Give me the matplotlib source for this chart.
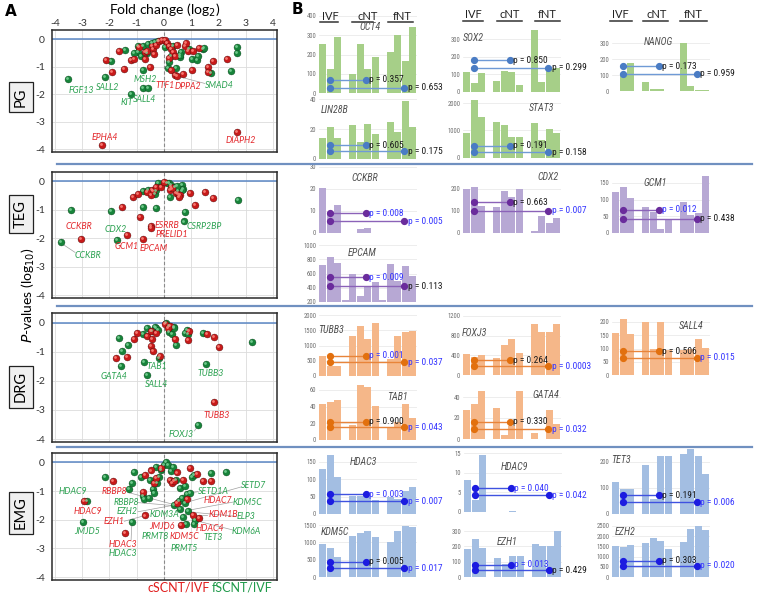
import matplotlib
matplotlib.use('Agg')
import matplotlib.pyplot as plt
from matplotlib import font_manager as fm, transforms
from matplotlib.lines import Line2D

plt.rcParams['axes.unicode_minus'] = False
_names = {f.name for f in fm.fontManager.ttflist}
BASE = 'Lato' if 'Lato' in _names else 'DejaVu Sans'
_narrow_pref = ['Liberation Sans Narrow', 'Roboto Condensed', 'Open Sans Condensed', 'DejaVu Sans Condensed']
_narrow_any = sorted(n for n in _names if ('Narrow' in n or 'Condensed' in n))
NARROW = next((n for n in _narrow_pref if n in _names), _narrow_any[0] if _narrow_any else 'Liberation Sans')
IS_NARROW = ('Narrow' in NARROW or 'Condensed' in NARROW)
plt.rcParams['font.family'] = [BASE, 'DejaVu Sans']

# ---------------- Panel A data: (log2 fold change, log10 P) ----------------
PG_GREEN = [(-3.52,-1.46),(-2.16,-1.37),(-1.95,-0.79),(-1.43,-0.39),(-1.22,-1.98),(-0.77,-1.77),
            (-0.57,-1.77),(-0.77,-1.11),(-0.95,-0.46),(-0.95,-0.25),(-0.75,-0.25),(-0.57,-0.17),
            (-0.42,-0.14),(-0.32,-0.11),(-0.20,-0.08),(0.18,-0.83),(0.28,-0.60),(0.16,-1.06),
            (0.64,-0.48),(0.94,-0.37),(1.02,-0.71),(1.20,-0.77),(1.24,-0.62),(1.45,-0.37),
            (1.48,-0.34),(1.72,-1.23),(2.69,-0.28),(2.69,-0.51),(2.47,-1.15),(0.58,-0.66),
            (0.61,-0.57),(-0.85,-0.60),(-0.60,-0.50),(0.05,-0.30),(0.35,-0.25),(-1.10,-0.50),(0.45,-1.05)]
PG_RED = [(-2.28,-3.85),(2.69,-3.38),(-2.11,-0.75),(-1.89,-1.20),(-1.47,-1.08),(-1.19,-0.77),
          (-1.11,-0.71),(-1.65,-0.43),(-0.69,-0.71),(-0.51,-1.00),(-0.69,-0.48),(-0.63,-0.43),
          (-0.45,-0.25),(-0.39,-0.37),(-0.27,-0.20),(-0.17,-0.08),(-0.08,-0.02),(0.04,-0.05),
          (0.10,-0.14),(0.18,-0.25),(0.28,-0.37),(0.34,-0.48),(0.40,-0.60),(0.28,-1.11),
          (0.40,-1.31),(0.49,-1.34),(0.70,-1.26),(1.02,-1.11),(0.88,-0.43),(1.06,-0.43),
          (1.30,-0.34),(1.63,-1.00),(1.61,-1.20),(1.81,-0.80),(2.33,-0.71),(0.76,-0.25),
          (0.82,-0.14),(-0.35,-0.55),(0.50,-0.20),(-0.90,-0.30),(0.20,-0.70)]
TEG_GREEN = [(-3.78,-2.13),(-3.40,-1.01),(-1.92,-1.03),(-1.73,-2.07),(-0.75,-0.90),(-0.77,-0.34),
             (-0.59,-0.30),(-0.33,-0.46),(-0.27,-0.32),(-0.29,-0.92),(-0.20,-0.07),(0.19,-0.07),
             (0.28,-0.11),(0.24,-0.55),(0.42,-0.21),(0.52,-0.32),(0.67,-0.11),(0.70,-0.26),
             (0.67,-0.32),(0.76,-1.07),(0.73,-1.41),(2.71,-0.67),(0.10,-0.05),(0.50,-0.15)]
TEG_RED = [(-3.04,-2.02),(-1.53,-0.90),(-1.35,-1.90),(-1.13,-0.55),(-0.93,-0.44),(-0.89,-1.24),
           (-0.77,-2.01),(-0.48,-0.49),(-0.45,-0.30),(-0.41,-0.34),(-0.48,-1.56),(-0.48,-1.64),
           (-0.29,-0.18),(-0.11,-0.18),(0.02,-0.02),(0.22,-0.30),(0.28,-0.21),(0.46,-0.41),
           (0.52,-0.44),(0.58,-0.49),(0.55,-0.55),(0.96,-0.41),(1.14,-0.84),(1.51,-0.38),
           (1.82,-0.59),(-0.60,-0.38),(0.30,-0.25)]
DRG_GREEN = [(-1.65,-0.54),(-1.54,-0.98),(-1.57,-1.49),(-1.30,-0.78),(-0.76,-0.38),(-0.72,-1.34),
             (-0.18,-1.23),(-0.63,-1.80),(-0.60,-0.20),(-0.33,-0.14),(-0.27,-0.20),(-0.20,-0.25),
             (0.08,0.00),(0.18,-0.31),(0.30,-0.38),(0.39,-0.15),(0.45,-0.78),(0.39,-0.20),
             (0.78,-0.34),(0.84,-0.25),(0.90,-0.38),(1.45,-0.34),(1.53,-1.41),(1.27,-3.51),
             (3.23,-0.66),(0.20,-0.10),(-0.45,-0.30)]
DRG_RED = [(-1.77,-1.23),(-1.35,-1.17),(-1.08,-0.55),(-0.99,-0.34),(-0.60,-0.46),(-0.46,-0.29),
           (-0.42,-0.55),(-0.46,-0.80),(-0.39,-0.98),(-0.14,-1.15),(0.24,-0.11),(0.42,-0.57),
           (0.90,-0.60),(0.94,-0.29),(1.57,-0.40),(1.84,-0.49),(2.02,-0.84),(1.83,-2.72),
           (0.05,-0.05),(-0.30,-0.35),(0.15,-0.20)]
EMG_GREEN = [(-2.80,-1.34),(-2.98,-2.06),(-2.17,-0.52),(-1.27,-0.94),(-1.15,-0.72),(-1.09,-0.32),
             (-0.85,-0.49),(-0.75,-1.17),(-1.17,-2.08),(-0.72,-1.28),(-0.54,-1.23),(-0.39,-0.94),
             (-0.36,-1.06),(-0.24,-0.72),(-0.18,-0.49),(-0.12,-0.26),(0.00,-0.09),(0.08,0.00),
             (0.15,-0.10),(0.25,-0.30),(0.36,-1.49),(0.54,-1.34),(0.60,-1.62),(0.66,-1.23),
             (0.78,-1.40),(0.84,-1.11),(0.90,-1.68),(0.96,-1.06),(0.82,-2.14),(1.10,-2.14),
             (1.14,-2.02),(1.02,-0.49),(1.10,-0.43),(1.73,-0.38),(2.27,-0.34),(0.60,-0.89),
             (0.78,-0.83),(0.45,-0.60),(-0.30,-0.15),(0.35,-0.15),(-0.50,-0.60),(0.70,-1.90)]
EMG_RED = [(-2.93,-1.34),(-1.87,-0.66),(-1.41,-2.45),(-0.69,-1.85),(-0.75,-1.02),(-0.69,-0.43),
           (-0.48,-0.28),(-0.36,-0.72),(-0.30,-0.55),(0.24,-0.60),(0.30,-0.72),(0.36,-0.66),
           (0.72,-0.60),(0.96,-0.18),(1.22,-0.40),(1.42,-0.64),(1.74,-0.64),(0.64,-2.19),
           (1.08,-1.83),(1.30,-1.93),(0.47,-1.40),(0.84,-1.29),(-0.10,-0.20),(0.50,-0.35)]

PG_LABELS = [('FGF13',-3.04,-1.86,'g'),('SALL2',-2.07,-1.75,'g'),('MSH2',-0.69,-1.46,'g'),
             ('KIT',-1.37,-2.30,'g'),('SALL4',-0.69,-2.21,'g'),('TTF1',0.04,-1.69,'r'),
             ('DPPA2',0.88,-1.72,'r'),('SMAD4',2.02,-1.69,'g'),('EPHA4',-2.16,-3.59,'r'),
             ('DIAPH2',2.83,-3.70,'r')]
TEG_LABELS = [('CCKBR',-3.10,-1.59,'r'),('CCKBR',-2.77,-2.62,'g'),('CDX2',-1.77,-1.70,'g'),
              ('GCM1',-1.35,-2.30,'r'),('EPCAM',-0.39,-2.36,'r'),('ESRRB',0.10,-1.56,'r'),
              ('PRELID1',0.28,-1.85,'r'),('CSRP2BP',1.48,-1.59,'g')]
DRG_LABELS = [('GATA4',-1.83,-1.86,'g'),('TAB1',-0.24,-1.52,'g'),('SALL4',-0.27,-2.13,'g'),
              ('TUBB3',1.72,-1.76,'g'),('TUBB3',1.95,-3.18,'r'),('FOXJ3',0.64,-3.83,'g')]
EMG_LABELS = [('HDAC9',-3.35,-1.03,'g'),('HDAC9',-2.80,-1.72,'r'),('JMJD5',-2.80,-2.40,'g'),
              ('RBBP8',-1.81,-1.03,'r'),('RBBP8',-1.39,-1.38,'g'),('EZH2',-1.35,-1.72,'g'),
              ('EZH1',-1.81,-2.06,'r'),('HDAC3',-1.51,-2.85,'r'),('HDAC3',-1.51,-3.19,'g'),
              ('KDM3A',0.02,-1.83,'g'),('JMJD6',-0.06,-2.23,'r'),('PRMT8',-0.30,-2.57,'g'),
              ('KDM5C',0.75,-2.57,'r'),('PRMT5',0.75,-2.99,'g'),('SETD1A',1.81,-1.00,'g'),
              ('SETD7',3.29,-0.81,'g'),('HDAC7',2.00,-1.34,'r'),('KDM5C',3.05,-1.38,'g'),
              ('KDM1B',2.17,-1.83,'r'),('ELP3',3.01,-1.88,'g'),('HDAC4',1.69,-2.31,'r'),
              ('KDM6A',3.01,-2.40,'g'),('TET3',1.81,-2.63,'g')]
PG_LEADERS = [(1.50,-1.61,0.58,-1.37)]
TEG_LEADERS = [(-3.25,-2.50,-3.72,-2.20)]
DRG_LEADERS = [(1.12,-3.72,1.24,-3.56)]
EMG_LEADERS = [(2.85,-0.85,0.80,-1.40),(1.25,-1.02,0.96,-1.06),(2.55,-1.38,1.00,-1.65),
               (1.60,-1.83,1.08,-1.83),(2.65,-1.88,1.20,-1.75),(2.55,-2.36,1.14,-2.02),
               (-1.30,-1.05,0.30,-1.45),(-0.95,-1.40,0.30,-1.50),(-0.95,-1.72,0.36,-1.49),
               (-1.45,-2.05,-0.69,-1.85),(-1.20,-2.70,-1.17,-2.08)]

# ---------------- Panel B data: IVF / cNT / fNT bars, two comparison lines ----------------
OCT4 = dict(ivf=[255,125,290], cnt=[100,255,125,185], fnt=[215,300,165,345], lines=[68,28], p=['0.357','0.653'], hi=[0,0])
LIN28B = dict(ivf=[14,21,14], cnt=[22.5,11,23.5,16.5], fnt=[24.5,18,39,21], lines=[9.2,5.0], p=['0.605','0.175'], hi=[0,0])
SOX2 = dict(ivf=[111,49,106], cnt=[62,119,111,40], fnt=[350,58,130,134], lines=[181,138], p=['0.850','0.299'], hi=[0,0])
STAT3 = dict(ivf=[920,2100,1480], cnt=[1300,1200,750,750], fnt=[1260,650,1040,900], lines=[450,200], p=['0.191','0.158'], hi=[0,0])
NANOG = dict(ivf=[3,94,177], cnt=[54,12.5,10,3], fnt=[302,29,4,4], lines=[156,108], p=['0.173','0.959'], hi=[0,0])
CCKBR = dict(ivf=[20.3,8.5,12.7], cnt=[0,1.8,2.4,0], fnt=[0,0,0,0], lines=[8.9,5.3], p=['0.008','0.005'], hi=[1,1])
EPCAM = dict(ivf=[715,827,752], cnt=[593,284,424,480], fnt=[733,499,705,565], lines=[547,424], p=['0.009','0.113'], hi=[1,0], gap=225)
CDX2 = dict(ivf=[199,208,123], cnt=[117,191,165,199], fnt=[10,75,45,70], lines=[140,100], p=['0.663','0.007'], hi=[0,1])
GCM1 = dict(ivf=[124,139,105], cnt=[79,62,12,41], fnt=[94,54,59,172], lines=[69,42], p=['0.012','0.438'], hi=[1,0])
TUBB3 = dict(ivf=[656,328,328], cnt=[1311,1639,1202,1748], fnt=[546,1311,1431,1475], lines=[656,448], p=['0.001','0.037'], hi=[1,1])
TAB1 = dict(ivf=[43,46,47.6], cnt=[17.6,66,63,41], fnt=[16,22,43,26], lines=[22,15.2], p=['0.900','0.043'], hi=[0,1])
FOXJ3 = dict(ivf=[427,360,407], cnt=[339,610,725,441], fnt=[1037,867,867,1037], lines=[305,183], p=['0.264','0.0003'], hi=[0,1])
GATA4 = dict(ivf=[28,33,46], cnt=[30,4,12,46], fnt=[6,0,28,14], lines=[16.5,9.2], p=['0.330','0.032'], hi=[0,1])
SALL4 = dict(ivf=[160,212,155], cnt=[200,100,200,95], fnt=[95,100,135,103], lines=[90,65], p=['0.506','0.015'], hi=[0,1])
HDAC3 = dict(ivf=[130,170,107], cnt=[52,52,48,40], fnt=[50,42,65,77], lines=[57,37], p=['0.003','0.007'], hi=[1,1])
KDM5C = dict(ivf=[950,830,590], cnt=[1190,1280,1320,1160], fnt=[1010,1340,1470,1440], lines=[440,250], p=['0.005','0.017'], hi=[0,1])
HDAC9 = dict(ivf=[8.1,3.1,14.5], cnt=[0,0,0.3,0], fnt=[0,0,0,0.1], lines=[6.0,4.2], p=['0.040','0.042'], hi=[1,1])
EZH1 = dict(ivf=[185,245,188], cnt=[122,88,138,140], fnt=[218,205,205,298], lines=[80,45], p=['0.013','0.429'], hi=[1,0])
TET3 = dict(ivf=[122,95,95], cnt=[190,58,225,225], fnt=[230,250,225,155], lines=[72,45], p=['0.191','0.006'], hi=[0,1])
EZH2 = dict(ivf=[1530,1470,1560], cnt=[1650,1920,1780,1370], fnt=[1720,2350,2520,2320], lines=[790,560], p=['0.303','0.020'], hi=[0,1])

# ---------------- layout (pixels) ----------------
W, H = 757, 595
fig = plt.figure(figsize=(W / 100, H / 100), dpi=100)


def ax_px(l, t, r, b):
    return fig.add_axes([l / W, 1 - b / H, (r - l) / W, (b - t) / H])


def ftext(x, y, s, **kw):
    return fig.text(x / W, 1 - y / H, s, **kw)


def fline(x1, x2, y1, y2, **kw):
    fig.add_artist(Line2D([x1 / W, x2 / W], [1 - y1 / H, 1 - y2 / H], transform=fig.transFigure, **kw))


GREEN, RED = '#17843a', '#c81a1a'
GREEN_L, RED_L = '#7fd49a', '#ff8a80'
GREEN_T, RED_T = '#2aa150', '#e3262a'


def volcano(t, b, green, red, labels, leaders, top):
    ax = ax_px(52, t, 277, b)
    ax.set_xlim(-4.1, 4.15)
    ax.set_ylim(-4.1, 0.33)
    ax.set_xticks(range(-4, 5))
    ax.set_yticks(range(-4, 1))
    ax.grid(True, color='#dcdcdc', lw=0.6)
    ax.set_axisbelow(True)
    ax.axhline(0, color='#5b87c5', lw=1.1, zorder=1)
    ax.axvline(0, color='#8a8a8a', lw=0.8, ls=(0, (3, 2)), zorder=1)
    for sp in ax.spines.values():
        sp.set_color('#2a2a2a')
        sp.set_linewidth(1.1)
    ax.tick_params(length=0, labelsize=7.5, colors='#333333')
    ax.tick_params(axis='y', pad=5)
    if top:
        ax.xaxis.tick_top()
        ax.tick_params(axis='x', pad=1.5)
    else:
        ax.set_xticklabels([])
    for x1, y1, x2, y2 in leaders:
        ax.plot([x1, x2], [y1, y2], color='#a0a0a0', lw=0.5, zorder=2)
    hl = transforms.offset_copy(ax.transData, fig=fig, x=-0.7, y=0.7, units='points')
    for pts, c, cl in ((green, GREEN, GREEN_L), (red, RED, RED_L)):
        xs = [p[0] for p in pts]
        ys = [p[1] for p in pts]
        ax.scatter(xs, ys, s=25, c=c, edgecolors='#3a0a0a' if c == RED else '#0a3a18',
                   linewidths=0.25, zorder=3, clip_on=False)
        ax.scatter(xs, ys, s=4, c=cl, linewidths=0, alpha=0.85, zorder=3.5, transform=hl, clip_on=False)
    for name, x, y, col in labels:
        ax.text(x, y, name, color=GREEN_T if col == 'g' else RED_T, fontsize=6.3, style='italic',
                ha='center', va='center', zorder=5, clip_on=False)
    return ax


volcano(30, 152, PG_GREEN, PG_RED, PG_LABELS, PG_LEADERS, True)
volcano(172, 298, TEG_GREEN, TEG_RED, TEG_LABELS, TEG_LEADERS, False)
volcano(313, 442, DRG_GREEN, DRG_RED, DRG_LABELS, DRG_LEADERS, False)
volcano(453, 580, EMG_GREEN, EMG_RED, EMG_LABELS, EMG_LEADERS, False)

ftext(5, 11, 'A', fontsize=11, fontweight='bold', family='DejaVu Sans', va='center')
ftext(165, 10, 'Fold change (log$_2$)', fontsize=10, ha='center', va='center')
ftext(28, 295, '$P$-values (log$_{10}$)', fontsize=10, rotation=90, ha='center', va='center')
for lab, y in (('PG', 97), ('TEG', 214), ('DRG', 387), ('EMG', 513)):
    ftext(21, y, lab, fontsize=10.5, rotation=90, ha='center', va='center',
          bbox=dict(boxstyle='square,pad=0.35', fc='#f0f0f0', ec='#222222', lw=0.9))
ftext(148, 587, 'cSCNT/IVF', fontsize=9, color='#e01c1c', ha='left', va='center')
ftext(212, 587, 'fSCNT/IVF', fontsize=9, color='#1f9a4a', ha='left', va='center')

# separators
for y in (164, 306, 447):
    fline(57, 752, y, y, color='#7090c0', lw=1.6)

# ---------------- Panel B ----------------
ftext(292, 10, 'B', fontsize=11, fontweight='bold', family='DejaVu Sans', va='center')
HEAD = [((330, 368, 402), (320, 338, 352, 373, 388, 413), 17, 22),
        ((473, 510, 547), (463, 483, 497, 522, 535, 560), 15, 21),
        ((620, 657, 693), (610, 632, 643, 668, 680, 707), 15, 21)]
for xs, ul, ty, uy in HEAD:
    for x, s in zip(xs, ('IVF', 'cNT', 'fNT')):
        ftext(x, ty, s, fontsize=8, ha='center', va='center', color='#222222')
    for i in range(3):
        fline(ul[2 * i], ul[2 * i + 1], uy, uy, color='#333333', lw=1.1)

ROWSTYLE = {
    'PG': ('#a6cf88', '#4a7cc4', '#6f9ad6'),
    'TEG': ('#b7a8d4', '#6a2c9c', '#8b62b8'),
    'DRG': ('#f5b789', '#e2700e', '#e8843a'),
    'EMG': ('#a3bee2', '#1c1ce0', '#3f52e0'),
}
PITCH = 7.5
SIG, NS = '#3535ff', '#1a1a1a'
P_SIZE = 6.8 if IS_NARROW else 5.9
G_SIZE = 7.2 if IS_NARROW else 6.3


def barchart(d, row, xl, y0, refv, refpx, ymin, ymax, ticks, gene, gxy, gha='center'):
    barc, dotc, linec = ROWSTYLE[row]
    scale = (y0 - refpx) / (refv - ymin)
    top = y0 - (ymax - ymin) * scale
    ax = ax_px(xl, top, xl + 13 * PITCH, y0)
    ax.set_xlim(-0.5, 12.5)
    ax.set_ylim(ymin, ymax)
    xs = [0, 1, 2, 4, 5, 6, 7, 9, 10, 11, 12]
    vals = d['ivf'] + d['cnt'] + d['fnt']
    ax.bar(xs, vals, width=0.88, color=barc, zorder=2)
    if 'gap' in d:
        ax.bar([3, 8], [d['gap'], d['gap']], width=0.88, color=barc, zorder=2)
    ax.set_yticks(ticks)
    ax.set_xticks([])
    ax.yaxis.grid(True, color='#e6e6e6', lw=0.5)
    ax.set_axisbelow(True)
    for sp in ax.spines.values():
        sp.set_visible(False)
    ax.tick_params(axis='y', length=0, labelsize=4.8, colors='#707070', pad=2)
    for lab in ax.get_yticklabels():
        lab.set_family(NARROW)
    ends = [5.7, 10.8]
    for yv, xe, p, h in zip(d['lines'], ends, d['p'], d['hi']):
        ax.plot([1, xe], [yv, yv], color=linec, lw=1.0, zorder=4, clip_on=False)
        ax.plot([1, xe], [yv, yv], ls='none', marker='o', ms=4.2, color=dotc, zorder=5, clip_on=False)
        ax.text(xe + 0.5, yv, 'p = ' + p, fontsize=P_SIZE, color=SIG if h else NS, family=NARROW,
                ha='left', va='center', zorder=6, clip_on=False)
    ftext(gxy[0], gxy[1], gene, fontsize=G_SIZE, style='italic', color='#505050', ha=gha, va='center',
          family=NARROW)
    return ax


barchart(OCT4, 'PG', 319, 93, 400, 16, 0, 400, [0, 100, 200, 300, 400], 'OCT4', (370, 27))
barchart(LIN28B, 'PG', 319, 159, 40, 99, 0, 42, [0, 20, 40], 'LIN28B', (335, 110))
barchart(SOX2, 'PG', 463, 92, 300, 39, 0, 350, [0, 100, 200, 300], 'SOX2', (473, 38))
barchart(STAT3, 'PG', 463, 158, 2000, 103, 0, 2250, [0, 1000, 2000], 'STAT3', (541, 108))
barchart(NANOG, 'PG', 612, 91, 300, 43, 0, 320, [0, 100, 200, 300], 'NANOG', (658, 42))
barchart(CCKBR, 'TEG', 319, 233, 20, 189, 0, 30, [0, 10, 20, 30], 'CCKBR', (365, 178))
barchart(EPCAM, 'TEG', 319, 302, 1000, 245, 200, 1000, [200, 400, 600, 800, 1000], 'EPCAM', (362, 253))
barchart(CDX2, 'TEG', 463, 233, 200, 189, 0, 250, [0, 100, 200], 'CDX2', (548, 177))
barchart(GCM1, 'TEG', 612, 233, 150, 183, 0, 175, [0, 50, 100, 150], 'GCM1', (655, 183))
barchart(TUBB3, 'DRG', 319, 376, 2000, 315, 0, 2000, [0, 500, 1000, 1500, 2000], 'TUBB3', (331, 330))
barchart(TAB1, 'DRG', 319, 440, 60, 390, 0, 68, [0, 20, 40, 60], 'TAB1', (397, 397))
barchart(FOXJ3, 'DRG', 463, 375, 1200, 316, 0, 1200, [0, 400, 800, 1200], 'FOXJ3', (474, 333))
barchart(GATA4, 'DRG', 463, 439, 40, 397, 0, 50, [0, 20, 40], 'GATA4', (546, 395))
barchart(SALL4, 'DRG', 612, 375, 200, 322, 0, 215, [0, 50, 100, 150, 200], 'SALL4', (691, 326))
barchart(HDAC3, 'EMG', 319, 514, 150, 462, 0, 175, [0, 50, 100, 150], 'HDAC3', (363, 462))
barchart(KDM5C, 'EMG', 319, 577, 1500, 525, 0, 1550, [0, 500, 1000, 1500], 'KDM5C', (335, 532))
barchart(HDAC9, 'EMG', 464, 512, 15, 453, 0, 15, [0, 5, 10, 15], 'HDAC9', (514, 467))
barchart(EZH1, 'EMG', 464, 577, 300, 531, 0, 310, [0, 100, 200, 300], 'EZH1', (507, 542))
barchart(TET3, 'EMG', 612, 514, 200, 462, 0, 250, [0, 100, 200], 'TET3', (621, 460))
barchart(EZH2, 'EMG', 612, 577, 2500, 526, 0, 2550, [0, 500, 1000, 1500, 2000, 2500], 'EZH2', (625, 532))

fig.savefig('out.png', dpi=100, facecolor='white')
